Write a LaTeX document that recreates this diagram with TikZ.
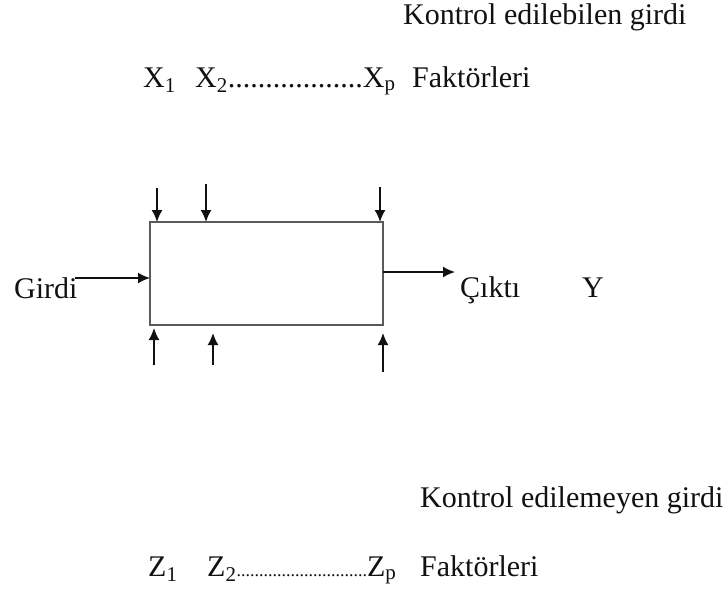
\documentclass[tikz,border=0pt]{standalone}
\usepackage{fontspec}
\setmainfont{Liberation Serif}
\usetikzlibrary{arrows.meta}
\definecolor{BoxLine}{HTML}{5A5A5A}
\definecolor{InkDark}{HTML}{111111}

\begin{document}
\begin{tikzpicture}[
	x=1pt, y=-1pt, % work in pixels of the page, y going down
	% Style for the process box
	process/.style={
		rectangle,
		draw=BoxLine,
		line width=1.2pt,
		minimum width=233pt,
		minimum height=103pt,
		inner sep=0pt,
		outer sep=0pt
	},
	% Style for the factor arrows
	arr/.style={
		draw=InkDark,
		line width=1.6pt,
		-{Latex[length=12pt,width=11pt]}
	},
	% Style for the texts (placed on their baseline)
	label/.style={
		text=InkDark,
		font=\fontsize{30}{34}\selectfont,
		inner sep=0pt,
		anchor=base west
	}
	]
	\useasboundingbox (0,0) rectangle (728,590);
	
	% 1. The box
	\node[process] (proc) at (266.5,273.5) {};
	
	% 2. Texts above the box
	\node[label] (ctrl) at (403,24) {Kontrol edilebilen girdi};
	\node[label] (x1) at (143,87) {X\textsubscript{1}};
	\node[label] (xrow) at (195,87) {X\textsubscript{2}..................X\textsubscript{p}};
	\node[label] (xfak) at (412,87) {Faktörleri};
	
	% 3. Input and output
	\node[label] (girdi) at (14,298) {Girdi};
	\node[label] (cikti) at (460,297) {Çıktı};
	\node[label] (yout) at (582,297) {Y};
	\coordinate (gin) at (75,278);
	\coordinate (cout) at (455,272);
	\draw[arr] (gin) -- (gin -| proc.west);
	\draw[arr] (cout -| proc.east) -- (cout);
	
	% 4. Controllable factors (top)
	\coordinate (t1) at (157,188);
	\coordinate (t2) at (206,184);
	\coordinate (t3) at (380,187);
	\draw[arr] (t1) -- (t1 |- proc.north);
	\draw[arr] (t2) -- (t2 |- proc.north);
	\draw[arr] (t3) -- (t3 |- proc.north);
	
	% 5. Uncontrollable factors (bottom)
	\coordinate (b1) at (154,365);
	\coordinate (b2) at (213,365);
	\coordinate (b3) at (383,372);
	\draw[arr] (b1) -- ([yshift=-3pt]b1 |- proc.south);
	\draw[arr] (b2) -- ([yshift=-8pt]b2 |- proc.south);
	\draw[arr] (b3) -- ([yshift=-8pt]b3 |- proc.south);
	
	% 6. Texts below the box
	\node[label] (unctrl) at (420,507) {Kontrol edilemeyen girdi};
	\node[label] (z1) at (148,576) {Z\textsubscript{1}};
	\node[label] (zrow) at (207,576) {Z\textsubscript{2}{\fontsize{18}{20}\selectfont .............................}Z\textsubscript{p}};
	\node[label] (zfak) at (420,576) {Faktörleri};
	
\end{tikzpicture}
\end{document}
